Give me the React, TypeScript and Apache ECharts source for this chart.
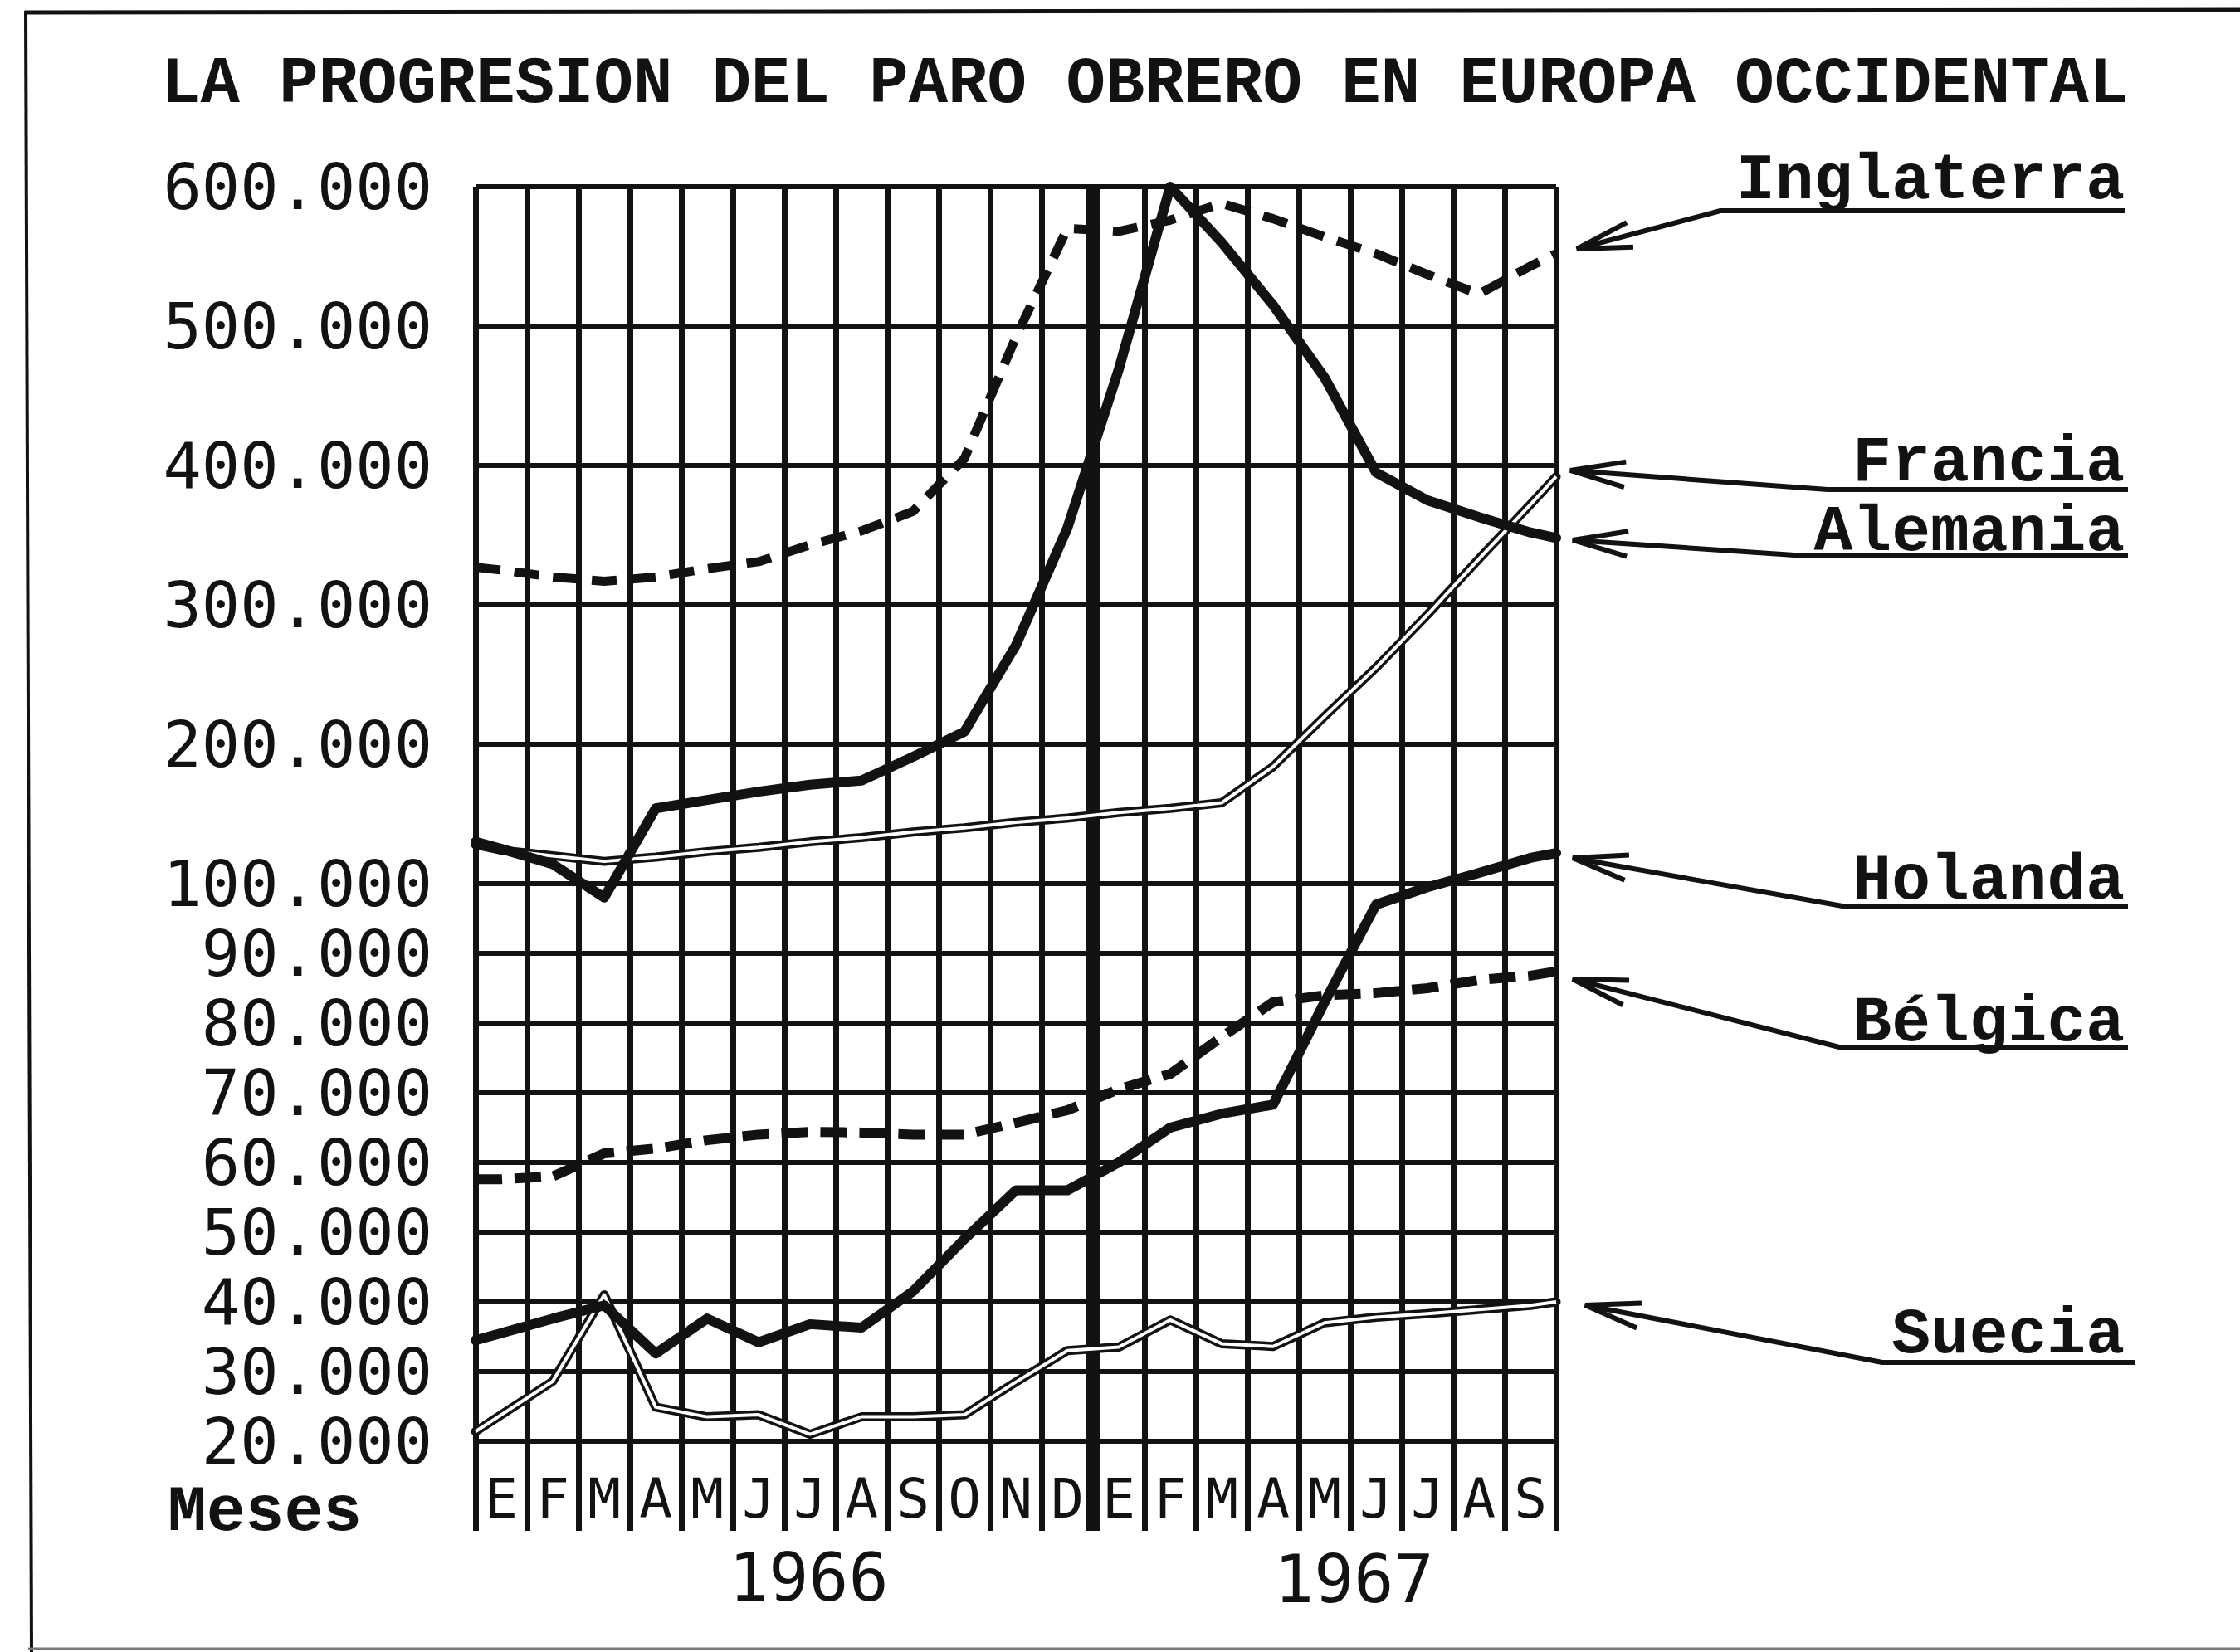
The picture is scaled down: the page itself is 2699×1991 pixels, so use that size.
import React, { useEffect, useRef } from "react";
import * as echarts from "echarts";

// ---------- data ----------
const TITLE = "LA PROGRESION DEL PARO OBRERO EN EUROPA OCCIDENTAL";
const months = ["E", "F", "M", "A", "M", "J", "J", "A", "S", "O", "N", "D", "E", "F", "M", "A", "M", "J", "J", "A", "S"];
const yearLabels = ["1966", "1967"];
const axisName = "Meses";
const yTickValues = [20000, 30000, 40000, 50000, 60000, 70000, 80000, 90000, 100000, 200000, 300000, 400000, 500000, 600000];
const yTickLabels = ["20.000", "30.000", "40.000", "50.000", "60.000", "70.000", "80.000", "90.000", "100.000", "200.000", "300.000", "400.000", "500.000", "600.000"];
const countryNames = ["Inglaterra", "Francia", "Alemania", "Holanda", "Bélgica", "Suecia"];

// monthly values, January 1966 .. September 1967
const inglaterra = [325000, 320000, 317000, 320000, 326000, 331000, 343000, 353000, 367000, 405000, 492000, 570000, 568000, 576000, 588000, 577000, 564000, 552000, 537000, 523000, 543000];
const alemania = [125000, 114000, 98000, 154000, 160000, 166000, 171000, 174000, 191000, 209000, 271000, 355000, 469000, 600000, 560000, 515000, 463000, 395000, 375000, 363000, 352000];
const francia = [124000, 120000, 116000, 119000, 123000, 126000, 130000, 133000, 137000, 140000, 144000, 147000, 151000, 154000, 158000, 184000, 220000, 255000, 293000, 333000, 372000];
const holanda = [35500, 37600, 39500, 32600, 37600, 34200, 36800, 36300, 41500, 49000, 56000, 56000, 60000, 65000, 67000, 68300, 83000, 97000, 99500, 107700, 118500];
const belgica = [57600, 58000, 61300, 62000, 63200, 64000, 64400, 64300, 64000, 64000, 65700, 67500, 70500, 72700, 78000, 83000, 84000, 84300, 85000, 86200, 86800];
const suecia = [23800, 28600, 41000, 24900, 23500, 23800, 21000, 23500, 23500, 23800, 28500, 33000, 33500, 37400, 34000, 33600, 37000, 37800, 38300, 38900, 39500];
// values where each line meets the left and right border of the grid
const inglaterraEdges = [327000, 552000];
const alemaniaEdges = [130000, 348000];
const franciaEdges = [128000, 392000];
const holandaEdges = [34500, 122000];
const belgicaEdges = [57600, 87400];
const sueciaEdges = [21400, 40000];

// ---------- layout / style ----------
const INK = "#121212";
const MONO_SERIF = "'Liberation Mono', 'Courier New', monospace";
const MONO_SANS = "'DejaVu Sans Mono', monospace";
const Y_MIN = -1.2857;
const Y_MAX = 18;

// piecewise scale: 10.000 steps below 100.000, 100.000 steps (two units) above
const toPos = (v: number) => (v <= 100000 ? (v - 20000) / 10000 : 8 + (v - 100000) / 50000);
const buildData = (vals: number[], edges: number[]) => [
  [0, toPos(edges[0])],
  ...vals.map((v, i) => [i + 0.5, toPos(v)]),
  [months.length, toPos(edges[1])],
];

const labelLayout = [
  { y: 218, tip: [1900, 300], start: [2073, 254], end: [2560, 254] },
  { y: 558, tip: [1892, 567], start: [2202, 590], end: [2564, 590] },
  { y: 642, tip: [1895, 651], start: [2177, 670], end: [2564, 670] },
  { y: 1062, tip: [1895, 1034], start: [2220, 1092], end: [2564, 1092] },
  { y: 1233, tip: [1895, 1180], start: [2220, 1263], end: [2564, 1263] },
  { y: 1609, tip: [1910, 1573], start: [2268, 1642], end: [2573, 1642] },
];

function buildGraphic() {
  const els: any[] = [];
  // frame
  els.push({ type: "line", silent: true, shape: { x1: 30, y1: 15, x2: 2699, y2: 12 }, style: { stroke: INK, lineWidth: 5 } });
  els.push({ type: "line", silent: true, shape: { x1: 31, y1: 13, x2: 38, y2: 1991 }, style: { stroke: INK, lineWidth: 4 } });
  els.push({ type: "line", silent: true, shape: { x1: 34, y1: 1987, x2: 2699, y2: 1987 }, style: { stroke: "#777", lineWidth: 3 } });
  // title
  els.push({
    type: "text", silent: true, x: 194, y: 102,
    style: { text: TITLE, fontFamily: MONO_SERIF, fontWeight: "bold", fontSize: 79, fill: INK, textAlign: "left", textVerticalAlign: "middle", align: "left", verticalAlign: "middle" },
  });
  // country labels with underline and arrow
  countryNames.forEach((name, i) => {
    const L = labelLayout[i];
    els.push({
      type: "text", silent: true, x: 2560, y: L.y,
      style: { text: name, fontFamily: MONO_SERIF, fontWeight: "bold", fontSize: 78, fill: INK, textAlign: "right", textVerticalAlign: "middle", align: "right", verticalAlign: "middle" },
    });
    els.push({
      type: "polyline", silent: true,
      shape: { points: [L.tip, L.start, L.end] },
      style: { stroke: INK, lineWidth: 6, fill: null, lineJoin: "round" },
    });
    const dx = L.start[0] - L.tip[0];
    const dy = L.start[1] - L.tip[1];
    const len = Math.sqrt(dx * dx + dy * dy);
    const ux = dx / len, uy = dy / len;
    const a = (13 * Math.PI) / 180;
    const hl = 68;
    const w1 = [L.tip[0] + hl * (ux * Math.cos(a) - uy * Math.sin(a)), L.tip[1] + hl * (ux * Math.sin(a) + uy * Math.cos(a))];
    const w2 = [L.tip[0] + hl * (ux * Math.cos(-a) - uy * Math.sin(-a)), L.tip[1] + hl * (ux * Math.sin(-a) + uy * Math.cos(-a))];
    els.push({
      type: "polyline", silent: true,
      shape: { points: [w1, L.tip, w2] },
      style: { stroke: INK, lineWidth: 6, fill: null, lineJoin: "miter" },
    });
  });
  // axis name
  els.push({
    type: "text", silent: true, x: 202, y: 1823,
    style: { text: axisName, fontFamily: MONO_SERIF, fontWeight: "bold", fontSize: 78, fill: INK, textAlign: "left", textVerticalAlign: "middle", align: "left", verticalAlign: "middle" },
  });
  // year labels
  const yearPos = [[878, 1901], [1535, 1903]];
  yearLabels.forEach((t, i) => {
    els.push({
      type: "text", silent: true, x: yearPos[i][0], y: yearPos[i][1],
      style: { text: t, fontFamily: MONO_SANS, fontSize: 80, fill: INK, textAlign: "left", textVerticalAlign: "middle", align: "left", verticalAlign: "middle" },
    });
  });
  return els;
}

function solidSeries(name: string, data: any[], width: number, z: number) {
  return {
    name, type: "line", data, symbol: "none", silent: true, z,
    lineStyle: { color: INK, width, type: "solid", join: "round", cap: "round" },
  };
}
function dashedSeries(name: string, data: any[], width: number, dash: number[], z: number) {
  return {
    name, type: "line", data, symbol: "none", silent: true, z,
    lineStyle: { color: INK, width, type: dash, join: "round", cap: "butt" },
  };
}
function doubleSeries(name: string, data: any[], width: number, core: number, z: number) {
  return [
    solidSeries(name, data, width, z),
    {
      name: name + "-core", type: "line", data, symbol: "none", silent: true, z: z + 1,
      lineStyle: { color: "#ffffff", width: core, type: "solid", join: "round", cap: "butt" },
    },
  ];
}

export default function App() {
  const ref = useRef<HTMLDivElement>(null);
  useEffect(() => {
    if (!ref.current) return;
    const chart = echarts.init(ref.current, null, { renderer: "svg" });

    const gridLines = {
      name: "grid", type: "line", data: [], symbol: "none", silent: true, z: 1,
      markLine: {
        silent: true, z: 1, animation: false, symbol: ["none", "none"], precision: 4,
        lineStyle: { color: INK, width: 6, type: "solid" },
        label: { show: true, position: "start", distance: 52, fontFamily: MONO_SANS, fontSize: 77, color: INK },
        data: [
          ...yTickValues.map((v, i) => ({ yAxis: toPos(v), label: { formatter: yTickLabels[i] } })),
          { xAxis: 0, lineStyle: { width: 7 }, label: { show: false } },
          { xAxis: months.length, lineStyle: { width: 7 }, label: { show: false } },
          { xAxis: 12, lineStyle: { width: 16 }, label: { show: false } },
        ],
      },
    };

    const option: any = {
      animation: false,
      backgroundColor: "#ffffff",
      grid: { left: 573, top: 225, width: 1302, height: 1620 },
      xAxis: [
        {
          type: "value", min: 0, max: months.length, interval: 1,
          axisLine: { show: false, onZero: false }, axisTick: { show: false }, axisLabel: { show: false },
          splitLine: { show: true, lineStyle: { color: INK, width: 7 } },
        },
        {
          type: "category", data: months, boundaryGap: true, position: "bottom",
          axisLine: { show: false, onZero: false }, axisTick: { show: false }, splitLine: { show: false },
          axisLabel: { show: true, inside: true, margin: 39, interval: 0, fontFamily: MONO_SANS, fontSize: 66, color: INK, verticalAlign: "middle" },
        },
      ],
      yAxis: {
        type: "value", min: Y_MIN, max: Y_MAX,
        axisLine: { show: false, onZero: false }, axisTick: { show: false }, axisLabel: { show: false }, splitLine: { show: false },
      },
      series: [
        gridLines,
        ...doubleSeries(countryNames[1], buildData(francia, franciaEdges), 11, 4, 3),
        ...doubleSeries(countryNames[5], buildData(suecia, sueciaEdges), 11, 4, 3),
        solidSeries(countryNames[2], buildData(alemania, alemaniaEdges), 12, 6),
        solidSeries(countryNames[3], buildData(holanda, holandaEdges), 12, 6),
        dashedSeries(countryNames[0], buildData(inglaterra, inglaterraEdges), 11, [30, 17], 6),
        dashedSeries(countryNames[4], buildData(belgica, belgicaEdges), 12, [32, 15], 6),
      ],
      graphic: { elements: buildGraphic() },
    };
    chart.setOption(option);
    return () => chart.dispose();
  }, []);
  return (
    <div
      ref={ref}
      style={{ position: "fixed", left: 0, top: 0, width: 2699, height: 1991, background: "#ffffff" }}
    />
  );
}
